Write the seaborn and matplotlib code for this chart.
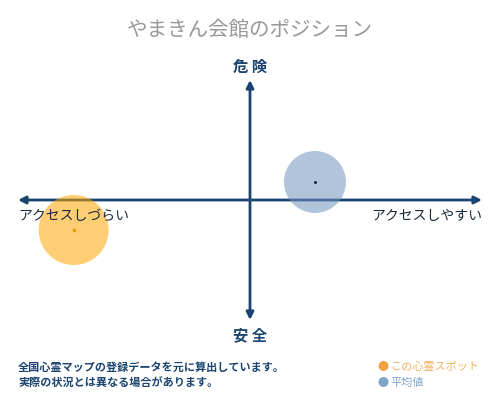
import pandas as pd
import matplotlib
matplotlib.use("Agg")
import matplotlib.pyplot as plt
import seaborn as sns

# chart values
spots = ["この心霊スポット", "平均値"]
access = [-7.6, 2.8]      # アクセスしづらい(-) / アクセスしやすい(+)
danger = [-2.5, 1.5]      # 安全(-) / 危険(+)

title = "やまきん会館のポジション"
label_top = "危 険"
label_bottom = "安 全"
label_left = "アクセスしづらい"
label_right = "アクセスしやすい"
notes = ["全国心霊マップの登録データを元に算出しています。",
         "実際の状況とは異なる場合があります。"]

NAVY = "#1b4470"
COLORS = {"この心霊スポット": "#ffa500", "平均値": "#6f94bf"}
SIZES = {"この心霊スポット": 2540, "平均値": 1990}
DOTS = {"この心霊スポット": "#e89a00", "平均値": "#1b2b40"}

sns.set_style("white")
plt.rcParams["font.family"] = ["Noto Sans CJK JP", "DejaVu Sans"]

df = pd.DataFrame({"spot": spots, "access": access, "danger": danger})

fig = plt.figure(figsize=(5, 4), dpi=100)
ax = fig.add_axes([18 / 500, 80 / 400, 464 / 500, 240 / 400])
ax.set_xlim(-10, 10)
ax.set_ylim(-10, 10)
ax.axis("off")

# axes arrows
arrow = dict(arrowstyle="<|-|>", color=NAVY, lw=2, mutation_scale=11,
             shrinkA=0, shrinkB=0)
ax.annotate("", xy=(10, 0), xytext=(-10, 0), arrowprops=arrow, annotation_clip=False)
ax.annotate("", xy=(0, 10), xytext=(0, -10), arrowprops=arrow, annotation_clip=False)

# bubbles
sns.scatterplot(data=df, x="access", y="danger", hue="spot", size="spot",
                palette=COLORS, sizes=SIZES, alpha=0.55, linewidth=0,
                legend=False, ax=ax, zorder=3)
for s, x, y in zip(spots, access, danger):
    ax.scatter([x], [y], s=3 if s == spots[0] else 1.5, color=DOTS[s], zorder=4)

# labels
fig.text(0.5, 1 - 30 / 400, title, ha="center", va="center",
         fontsize=14.8, color="#999999")
fig.text(0.5, 1 - 67 / 400, label_top, ha="center", va="center",
         fontsize=11, fontweight="bold", color=NAVY)
fig.text(0.5, 1 - 335 / 400, label_bottom, ha="center", va="center",
         fontsize=11, fontweight="bold", color=NAVY)
fig.text(18 / 500, 1 - 216 / 400, label_left, ha="left", va="center",
         fontsize=10, color="#1a2a3a")
fig.text(482 / 500, 1 - 216 / 400, label_right, ha="right", va="center",
         fontsize=10, color="#1a2a3a")

fig.text(18 / 500, 1 - 367 / 400, notes[0], ha="left", va="center",
         fontsize=8, fontweight="bold", color=NAVY)
fig.text(18 / 500, 1 - 383 / 400, notes[1], ha="left", va="center",
         fontsize=8, fontweight="bold", color=NAVY)

# legend
fig.text(377 / 500, 1 - 367 / 400, "●", ha="left", va="center",
         fontsize=8, color="#f0a040")
fig.text(390 / 500, 1 - 367 / 400, spots[0], ha="left", va="center",
         fontsize=8, color="#f0b060")
fig.text(377 / 500, 1 - 383 / 400, "●", ha="left", va="center",
         fontsize=8, color="#7fa4c8")
fig.text(390 / 500, 1 - 383 / 400, spots[1], ha="left", va="center",
         fontsize=8, color="#7fa4c8")

fig.savefig("out.png", dpi=100, facecolor="white")
